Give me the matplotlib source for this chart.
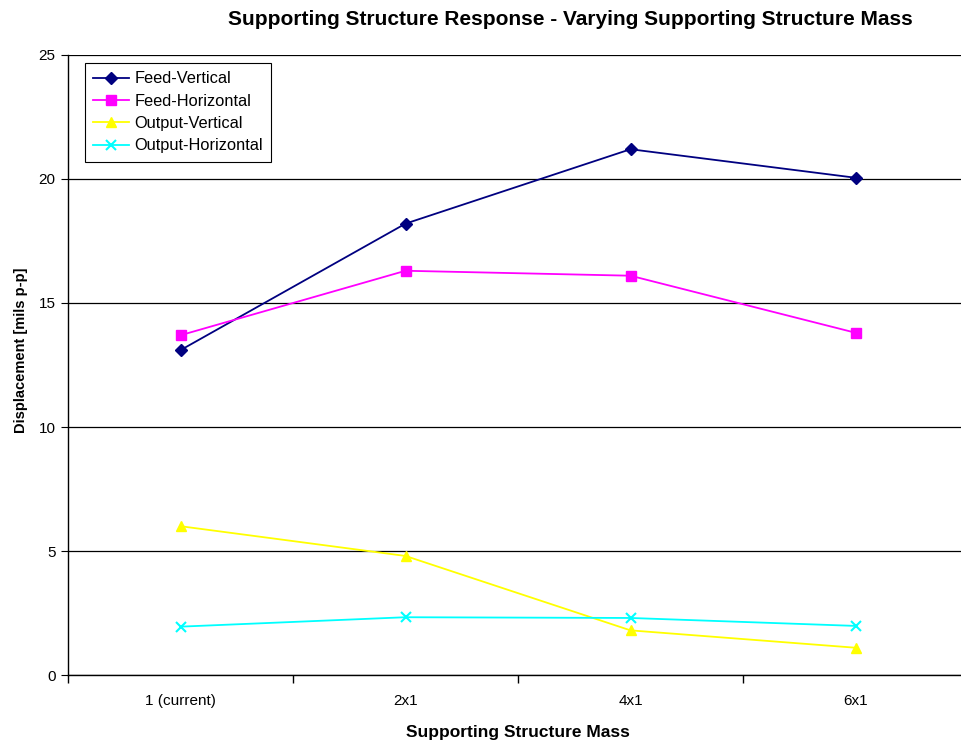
import numpy as np
import matplotlib.pyplot as plt
from matplotlib.ticker import FixedLocator

plt.rcParams['font.family'] = ['Liberation Sans', 'DejaVu Sans']

categories = ["1 (current)", "2x1", "4x1", "6x1"]
feed_vertical = [13.1, 18.2, 21.2, 20.05]
feed_horizontal = [13.7, 16.3, 16.1, 13.8]
output_vertical = [6.0, 4.8, 1.8, 1.1]
output_horizontal = [1.95, 2.33, 2.3, 1.98]

fig = plt.figure(figsize=(9.61, 7.43), dpi=100)
ax = fig.add_axes([0.0708, 0.0915, 0.9365, 0.8345])

x = np.arange(len(categories))
ax.plot(x, feed_vertical, color='#000080', marker='D', markersize=6, lw=1.3, label='Feed-Vertical')
ax.plot(x, feed_horizontal, color='#FF00FF', marker='s', markersize=7, lw=1.3, label='Feed-Horizontal')
ax.plot(x, output_vertical, color='#FFFF00', marker='^', markersize=7, lw=1.3, label='Output-Vertical')
ax.plot(x, output_horizontal, color='#00FFFF', marker='x', markersize=7, mew=1.5, lw=1.3, label='Output-Horizontal')

ax.set_xlim(-0.5, 3.5)
ax.set_ylim(0, 25)
ax.set_yticks(range(0, 26, 5))
ax.set_xticks(x)
ax.set_xticklabels(categories)
ax.xaxis.set_minor_locator(FixedLocator(np.arange(-0.5, 4, 1)))
ax.tick_params(axis='x', which='major', length=0, pad=14, labelsize=11)
ax.tick_params(axis='x', which='minor', length=6, direction='out', width=1)
ax.tick_params(axis='y', length=5, direction='out', labelsize=11, pad=4)

ax.yaxis.grid(True, color='black', lw=0.9)
ax.set_axisbelow(True)
for s in ['top', 'right']:
    ax.spines[s].set_visible(False)
for s in ['left', 'bottom']:
    ax.spines[s].set_linewidth(1.0)

ax.set_xlabel('Supporting Structure Mass', fontsize=12.5, fontweight='bold', labelpad=12)
ax.set_ylabel('Displacement [mils p-p]', fontsize=10.5, fontweight='bold')
ax.yaxis.set_label_coords(-0.045, 0.524)
fig.text(0.594, 0.974, 'Supporting Structure Response - Varying Supporting Structure Mass',
         ha='center', va='center', fontsize=15, fontweight='bold')

leg = ax.legend(loc='upper left', bbox_to_anchor=(0.01, 1.0), fontsize=11.8,
                frameon=True, fancybox=False, edgecolor='black', framealpha=1,
                handlelength=2.2, borderpad=0.5, labelspacing=0.45, handletextpad=0.3)
leg.get_frame().set_linewidth(0.8)

fig.savefig('out.png', dpi=100)
